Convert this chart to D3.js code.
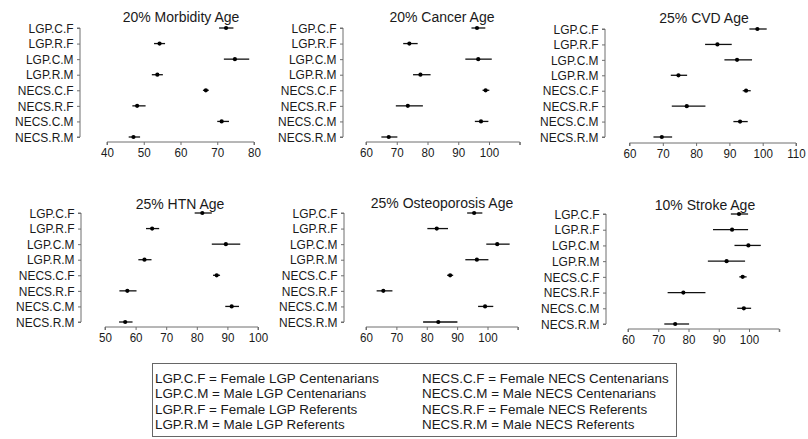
<!DOCTYPE html>
<html><head><meta charset="utf-8">
<script src="https://cdn.jsdelivr.net/npm/d3@7"></script>
<style>
html,body{margin:0;padding:0;background:#fff;}
text{font-family:"Liberation Sans",Arial,sans-serif;fill:#1a1a1a;}
</style></head>
<body><svg id="chart" width="808" height="439"></svg>
<script>
// ---- data ----
const categories = ["LGP.C.F","LGP.R.F","LGP.C.M","LGP.R.M","NECS.C.F","NECS.R.F","NECS.C.M","NECS.R.M"];
const panelTitles = ["20% Morbidity Age","20% Cancer Age","25% CVD Age","25% HTN Age","25% Osteoporosis Age","10% Stroke Age"];

// estimate, lower CI, upper CI (per category, in the order above)
const morbidityEst = [72.4,54.3,74.8,53.7,66.9,48.2,71.2,47.2];
const morbidityLo  = [70.5,52.8,71.8,52.2,66.1,46.9,70.0,45.9];
const morbidityHi  = [74.4,55.8,78.7,55.2,67.7,50.5,73.2,49.0];

const cancerEst = [96.1,74.1,96.5,77.7,98.9,73.6,97.4,67.4];
const cancerLo  = [94.3,72.1,92.3,75.3,97.9,69.7,95.4,65.0];
const cancerHi  = [98.8,76.8,100.9,81.0,100.1,78.5,99.8,70.2];

const cvdEst = [98.4,86.4,92.3,74.7,95.0,77.2,93.2,69.7];
const cvdLo  = [96.0,82.7,88.5,72.4,94.0,72.7,91.2,67.2];
const cvdHi  = [101.2,90.7,96.8,77.3,96.4,82.8,95.5,72.8];

const htnEst = [81.8,65.4,89.5,62.9,86.5,57.3,91.4,56.6];
const htnLo  = [79.3,63.4,84.9,60.9,85.3,54.7,89.3,54.6];
const htnHi  = [84.9,67.7,94.2,65.2,87.6,60.3,93.8,59.0];

const osteoEst = [95.6,83.3,103.2,96.5,87.7,65.7,99.2,83.8];
const osteoLo  = [93.3,80.2,99.6,92.7,86.7,63.5,96.9,78.8];
const osteoHi  = [98.3,87.0,107.3,100.3,88.7,68.7,101.9,90.1];

const strokeEst = [96.7,94.4,99.8,92.6,97.9,78.3,98.3,75.6];
const strokeLo  = [94.0,88.1,95.2,86.4,96.8,73.1,96.1,72.0];
const strokeHi  = [99.7,99.7,103.9,98.7,99.2,85.6,100.7,80.2];

// axis ticks and labels
const ticks1 = [40,50,60,70,80];      const tickLabels1 = ["40","50","60","70","80"];
const ticks2 = [60,70,80,90,100,110]; const tickLabels2 = ["60","70","80","90","100",""];
const ticks3 = [60,70,80,90,100,110]; const tickLabels3 = ["60","70","80","90","100","110"];
const ticks4 = [50,60,70,80,90,100];  const tickLabels4 = ["50","60","70","80","90","100"];
const ticks5 = [60,70,80,90,100,110]; const tickLabels5 = ["60","70","80","90","100",""];
const ticks6 = [60,70,80,90,100,110]; const tickLabels6 = ["60","70","80","90","100",""];

const legendLeft  = ["LGP.C.F = Female LGP Centenarians","LGP.C.M = Male LGP Centenarians","LGP.R.F = Female LGP Referents","LGP.R.M = Male LGP Referents"];
const legendRight = ["NECS.C.F = Female NECS Centenarians","NECS.C.M = Male NECS Centenarians","NECS.R.F = Female NECS Referents","NECS.R.M = Male NECS Referents"];

// ---- layout (pixel geometry, separate from data) ----
const layout = [
  {est:morbidityEst, lo:morbidityLo, hi:morbidityHi, ticks:ticks1, labels:tickLabels1, d0:40, d1:80,  r0:107, r1:254, yAxisX:80,  top:28,  bottom:137, axisY:142, titleX:181, titleY:22},
  {est:cancerEst,    lo:cancerLo,    hi:cancerHi,    ticks:ticks2, labels:tickLabels2, d0:60, d1:100, r0:366, r1:489, yAxisX:343, top:28,  bottom:137, axisY:142, titleX:442, titleY:22},
  {est:cvdEst,       lo:cvdLo,       hi:cvdHi,       ticks:ticks3, labels:tickLabels3, d0:60, d1:110, r0:629.5,r1:796, yAxisX:605, top:29,  bottom:137, axisY:143, titleX:704, titleY:23},
  {est:htnEst,       lo:htnLo,       hi:htnHi,       ticks:ticks4, labels:tickLabels4, d0:50, d1:100, r0:105, r1:258, yAxisX:81,  top:213, bottom:322, axisY:327, titleX:180, titleY:209},
  {est:osteoEst,     lo:osteoLo,     hi:osteoHi,     ticks:ticks5, labels:tickLabels5, d0:60, d1:100, r0:366, r1:487.5, yAxisX:344, top:213, bottom:322, axisY:327, titleX:442, titleY:208},
  {est:strokeEst,    lo:strokeLo,    hi:strokeHi,    ticks:ticks6, labels:tickLabels6, d0:60, d1:100, r0:628, r1:749, yAxisX:606, top:214, bottom:324, axisY:329, titleX:705, titleY:210}
];

const svg = d3.select("#chart");
const axisColor = "#6e6e6e";

layout.forEach((p, i) => {
  const x = d3.scaleLinear().domain([p.d0, p.d1]).range([p.r0, p.r1]);
  const y = d3.scalePoint().domain(categories).range([p.top, p.bottom]);
  const g = svg.append("g");

  // y axis
  const ya = g.append("g").attr("transform", `translate(${p.yAxisX},0)`)
    .call(d3.axisLeft(y).tickSize(3).tickPadding(4));
  ya.select(".domain").attr("stroke", axisColor).attr("d", `M-3,${p.top}H0V${p.bottom}H-3`);
  ya.selectAll(".tick line").attr("stroke", axisColor);
  ya.selectAll(".tick text").attr("font-size", "13px").attr("font-family", "Liberation Sans, Arial, sans-serif")
    .attr("fill", "#1a1a1a").attr("transform", "scale(0.92,1)");

  // x axis
  const xa = g.append("g").attr("transform", `translate(0,${p.axisY})`)
    .call(d3.axisBottom(x).tickValues(p.ticks).tickSize(3).tickPadding(2)
      .tickFormat((d, k) => p.labels[k]));
  xa.select(".domain").attr("stroke", axisColor)
    .attr("d", `M${x(p.ticks[0])},3V0H${x(p.ticks[p.ticks.length-1])}V3`);
  xa.selectAll(".tick line").attr("stroke", axisColor);
  xa.selectAll(".tick text").attr("font-size", "13.5px").attr("font-family", "Liberation Sans, Arial, sans-serif")
    .attr("fill", "#1a1a1a").attr("transform", "scale(0.86,1)");

  // title
  g.append("text").attr("x", p.titleX).attr("y", p.titleY)
    .attr("text-anchor", "middle").attr("font-size", "14px").text(panelTitles[i]);

  // error bars
  g.selectAll("line.ci").data(categories).enter().append("line")
    .attr("x1", (c, k) => x(p.lo[k])).attr("x2", (c, k) => x(p.hi[k]))
    .attr("y1", c => y(c)).attr("y2", c => y(c))
    .attr("stroke", "#111").attr("stroke-width", 1.3);
  g.selectAll("circle.pt").data(categories).enter().append("circle")
    .attr("cx", (c, k) => x(p.est[k])).attr("cy", c => y(c)).attr("r", 2.1)
    .attr("fill", "#000");
});

// legend
const lg = svg.append("g");
lg.append("rect").attr("x", 152.5).attr("y", 363.5).attr("width", 524).attr("height", 73)
  .attr("fill", "none").attr("stroke", "#666").attr("stroke-width", 1);
const ly = d3.scaleLinear().domain([0, 3]).range([383, 429]);
lg.selectAll("text.l").data(legendLeft).enter().append("text")
  .attr("x", 155).attr("y", (d, k) => ly(k)).attr("font-size", "13.4px").text(d => d);
lg.selectAll("text.r").data(legendRight).enter().append("text")
  .attr("x", 422).attr("y", (d, k) => ly(k)).attr("font-size", "13.4px").text(d => d);
</script></body></html>
